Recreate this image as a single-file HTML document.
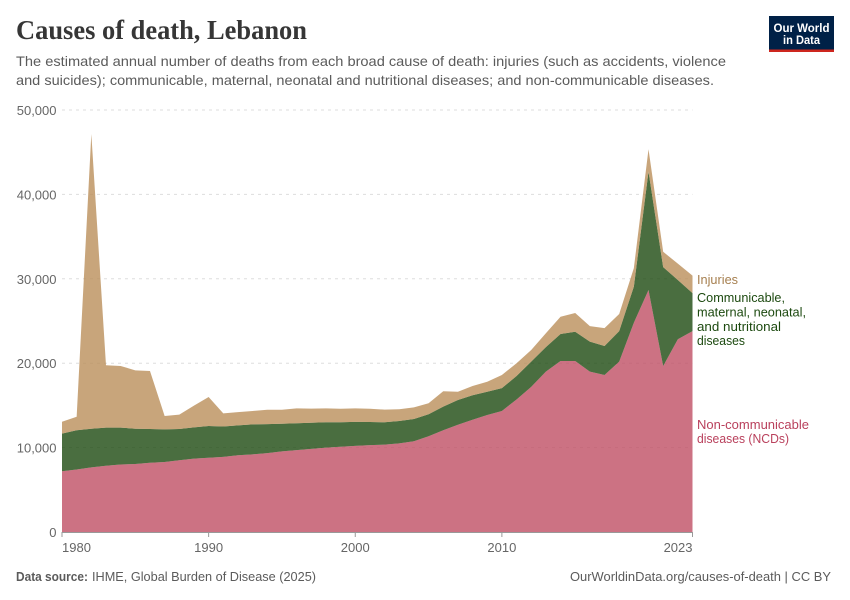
<!DOCTYPE html>
<html lang="en">
<head>
<meta charset="utf-8">
<title>Causes of death, Lebanon</title>
<style>
html,body{margin:0;padding:0;background:#fff;width:850px;height:600px;overflow:hidden}
svg{display:block;font-family:"Liberation Sans",Arial,sans-serif}
</style>
</head>
<body>
<svg id="chart" width="850" height="600" viewBox="0 0 850 600" xmlns="http://www.w3.org/2000/svg">
  <rect width="850" height="600" fill="#ffffff"/>
  <text x="16" y="39" font-family="'Liberation Serif',serif" font-weight="700" font-size="27" fill="#363636" textLength="291" lengthAdjust="spacingAndGlyphs">Causes of death, Lebanon</text>
  <text x="16" y="66" font-size="14" fill="#5b5b5b" textLength="710" lengthAdjust="spacingAndGlyphs">The estimated annual number of deaths from each broad cause of death: injuries (such as accidents, violence</text>
  <text x="16" y="85" font-size="14" fill="#5b5b5b" textLength="698" lengthAdjust="spacingAndGlyphs">and suicides); communicable, maternal, neonatal and nutritional diseases; and non-communicable diseases.</text>

  <g>
    <rect x="769" y="16" width="65" height="36" fill="#002147"/>
    <rect x="769" y="49.5" width="65" height="2.5" fill="#ce261e"/>
    <text x="801.5" y="32" text-anchor="middle" font-size="12" font-weight="700" fill="#ffffff" textLength="56" lengthAdjust="spacingAndGlyphs">Our World</text>
    <text x="801.5" y="44" text-anchor="middle" font-size="12" font-weight="700" fill="#ffffff" textLength="37" lengthAdjust="spacingAndGlyphs">in Data</text>
  </g>

  <g id="grid"></g>
  <g id="areas"></g>
  <g id="axes"></g>

  <g>
    <text x="697" y="284" font-size="12.5" fill="#a67f4f" textLength="41" lengthAdjust="spacingAndGlyphs">Injuries</text>
    <text font-size="12.5" fill="#1d4a10">
      <tspan x="697" y="302" textLength="88" lengthAdjust="spacingAndGlyphs">Communicable,</tspan>
      <tspan x="697" y="316.5" textLength="109" lengthAdjust="spacingAndGlyphs">maternal, neonatal,</tspan>
      <tspan x="697" y="331" textLength="84" lengthAdjust="spacingAndGlyphs">and nutritional</tspan>
      <tspan x="697" y="345" textLength="48" lengthAdjust="spacingAndGlyphs">diseases</tspan>
    </text>
    <text font-size="12.5" fill="#b9405c">
      <tspan x="697" y="429" textLength="112" lengthAdjust="spacingAndGlyphs">Non-communicable</tspan>
      <tspan x="697" y="443" textLength="92" lengthAdjust="spacingAndGlyphs">diseases (NCDs)</tspan>
    </text>
  </g>

  <text x="16" y="581" font-size="12.5" fill="#5b5b5b"><tspan font-weight="700" textLength="72" lengthAdjust="spacingAndGlyphs">Data source:</tspan><tspan x="92" textLength="224" lengthAdjust="spacingAndGlyphs">IHME, Global Burden of Disease (2025)</tspan></text>
  <text x="570" y="581" font-size="12.5" fill="#5b5b5b" textLength="261" lengthAdjust="spacingAndGlyphs">OurWorldinData.org/causes-of-death | CC BY</text>
</svg>
<script>
var firstYear = 1980;
var lastYear = 2023;
var ncdDeaths = [7200,7400,7650,7850,8000,8050,8200,8300,8500,8700,8800,8900,9100,9200,9350,9550,9700,9850,10000,10100,10200,10300,10350,10500,10750,11350,12050,12700,13300,13860,14340,15700,17200,19000,20260,20260,19000,18600,20180,24800,28670,19670,22830,23800];
var communicableDeaths = [4450,4650,4590,4510,4360,4190,4000,3860,3700,3700,3760,3600,3540,3550,3430,3270,3180,3100,3000,2900,2850,2730,2650,2650,2640,2600,2800,2940,2900,2760,2700,2780,2980,2900,3200,3470,3550,3440,3620,4270,14030,11710,7030,4500];
var injuryDeaths = [1420,1610,34910,7390,7310,6910,6880,1580,1700,2570,3440,1560,1560,1590,1700,1660,1770,1670,1650,1600,1600,1570,1500,1400,1380,1300,1820,980,1100,1180,1560,1520,1390,1650,2040,2220,1840,2110,2030,2200,2650,1820,1940,2070];
var yTicks = [0,10000,20000,30000,40000,50000];
var xTicks = [1980,1990,2000,2010,2023];

var NS = 'http://www.w3.org/2000/svg';
function xScale(year){ return 62 + (year - firstYear) * (692.5 - 62) / (lastYear - firstYear); }
function yScale(value){ return 532 - value * (532 - 110) / 50000; }
function make(tag, parent){
  var el = document.createElementNS(NS, tag);
  parent.appendChild(el);
  return el;
}
function fmt(n){ return String(n).replace(/\B(?=(\d{3})+$)/g, ','); }

var grid = document.getElementById('grid');
var axes = document.getElementById('axes');
var areas = document.getElementById('areas');

yTicks.forEach(function(t){
  var label = make('text', axes);
  
  
  label.setAttribute('x', 56.5);
  label.setAttribute('y', yScale(t) + 5);
  label.setAttribute('text-anchor', 'end');
  label.setAttribute('font-size', '13');
  label.setAttribute('fill', '#666666');
  label.textContent = fmt(t);
  if (t === 0) return;
  var line = make('line', grid);
  
  
  line.setAttribute('x1', 62);
  line.setAttribute('x2', 692.5);
  line.setAttribute('y1', yScale(t));
  line.setAttribute('y2', yScale(t));
  line.setAttribute('stroke', '#dddddd');
  line.setAttribute('stroke-dasharray', '3,4');
});

function drawLayer(lower, upper, fill, name){
  var pts = [];
  var i;
  for (i = 0; i < upper.length; i++) pts.push(xScale(firstYear + i).toFixed(2) + ',' + yScale(upper[i]).toFixed(2));
  for (i = lower.length - 1; i >= 0; i--) pts.push(xScale(firstYear + i).toFixed(2) + ',' + yScale(lower[i]).toFixed(2));
  var poly = make('polygon', areas);
  
  
  poly.setAttribute('points', pts.join(' '));
  poly.setAttribute('fill', fill);
  poly.setAttribute('fill-opacity', '0.8');
}

var base = ncdDeaths.map(function(){ return 0; });
var stack1 = ncdDeaths.map(function(v, i){ return base[i] + v; });
var stack2 = communicableDeaths.map(function(v, i){ return stack1[i] + v; });
var stack3 = injuryDeaths.map(function(v, i){ return stack2[i] + v; });
drawLayer(base, stack1, '#bf4f64', 'area-non-communicable-diseases');
drawLayer(stack1, stack2, '#1d4a10', 'area-communicable-diseases');
drawLayer(stack2, stack3, '#ba8e5a', 'area-injuries');

var baseline = make('line', axes);


baseline.setAttribute('x1', 62);
baseline.setAttribute('x2', 692.5);
baseline.setAttribute('y1', 532.5);
baseline.setAttribute('y2', 532.5);
baseline.setAttribute('stroke', '#999999');

xTicks.forEach(function(y, i){
  var tick = make('line', axes);
  
  
  tick.setAttribute('x1', xScale(y));
  tick.setAttribute('x2', xScale(y));
  tick.setAttribute('y1', 532);
  tick.setAttribute('y2', 537);
  tick.setAttribute('stroke', '#999999');
  var label = make('text', axes);
  
  
  label.setAttribute('x', xScale(y));
  label.setAttribute('y', 552);
  label.setAttribute('text-anchor', i === 0 ? 'start' : (i === xTicks.length - 1 ? 'end' : 'middle'));
  label.setAttribute('font-size', '13');
  label.setAttribute('fill', '#666666');
  label.textContent = y;
});
</script>
</body>
</html>
